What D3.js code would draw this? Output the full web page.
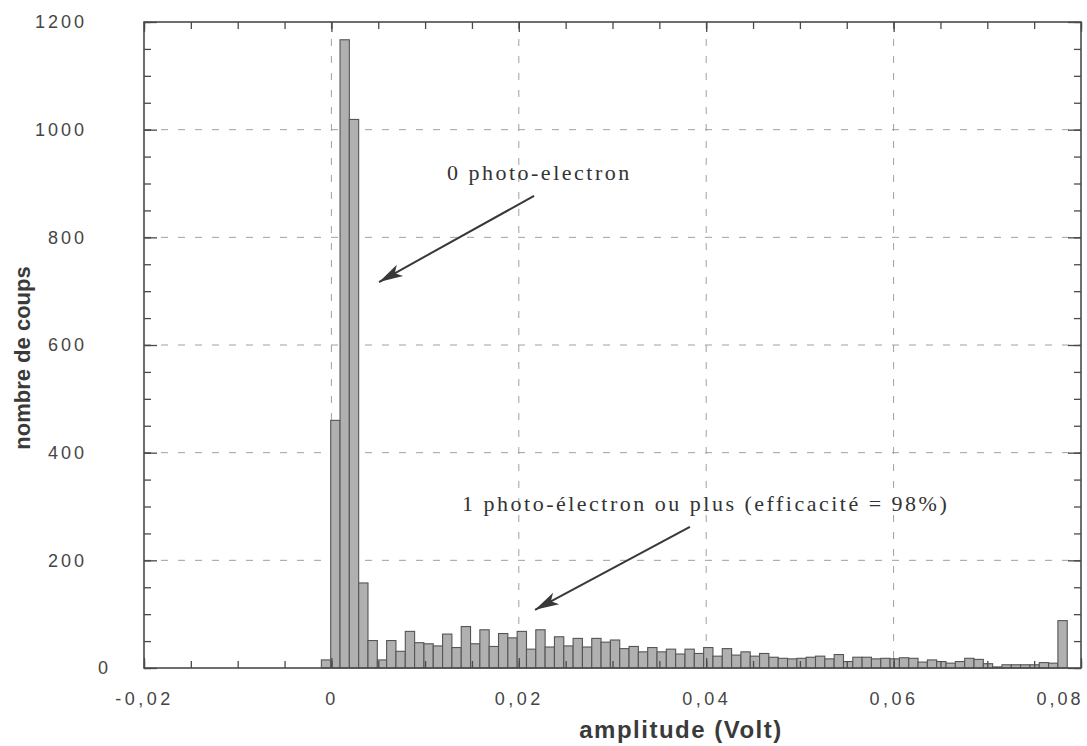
<!DOCTYPE html>
<html>
<head>
<meta charset="utf-8">
<script src="https://cdn.jsdelivr.net/npm/d3@7"></script>
<style>
  html, body { margin: 0; padding: 0; background: #fff; }
  svg { display: block; }
</style>
</head>
<body>
<svg id="chart" width="1087" height="746"></svg>
<script>
// Histogram of pulse amplitudes: counts per amplitude bin (Volt)
const binStart = -0.00107;   // lower edge of the first bin
const binWidth = 0.000995;   // bin width
const counts = [
  15, 460, 1167, 1019, 158, 51, 15, 51, 31, 68,
  47, 45, 41, 63, 38, 77, 45, 71, 40, 64,
  56, 68, 35, 71, 39, 58, 41, 55, 39, 55,
  48, 52, 36, 40, 30, 38, 30, 35, 26, 35,
  27, 38, 22, 36, 24, 30, 22, 27, 20, 18,
  17, 18, 20, 22, 17, 25, 12, 20, 20, 17,
  18, 17, 19, 18, 11, 15, 12, 9, 12, 18,
  16, 8, 2, 6, 6, 6, 6, 10, 9, 88
];

// Axis ticks
const xMajorTicks = [-0.02, 0, 0.02, 0.04, 0.06, 0.08];
const xMinorTicks = d3.range(-0.02, 0.0801, 0.005);
const yMajorTicks = [0, 200, 400, 600, 800, 1000, 1200];
const yMinorTicks = d3.range(0, 1201, 50);

// Annotations: label text with its position, arrow from -> to (data units)
const annotations = [
  { text: "0 photo-electron", x: 0.01233, y: 906,
    from: [0.02163, 877], to: [0.00508, 717] },
  { text: "1 photo-électron ou plus (efficacité = 98%)", x: 0.01394, y: 292,
    from: [0.03826, 262], to: [0.02173, 108] }
];

const svg = d3.select("#chart");
const x = d3.scaleLinear().domain([-0.02, 0.08]).range([144, 1081]);
const y = d3.scaleLinear().domain([0, 1200]).range([668, 22]);

const fr = d3.formatLocale({ decimal: ",", thousands: "", grouping: [3], currency: ["", ""], minus: "-" });
const fmtX = v => Math.abs(v) < 1e-9 ? "0" : fr.format(".2f")(v);

const frameColor = "#4a4a4a";
const labelColor = "#454545";

// Grid lines
const grid = svg.append("g").attr("stroke", "#a0a0a0").attr("stroke-width", 1)
  .attr("stroke-dasharray", "7,10");
grid.selectAll("line.v").data([0, 0.02, 0.04, 0.06]).join("line")
  .attr("x1", d => x(d)).attr("x2", d => x(d))
  .attr("y1", y(1200)).attr("y2", y(0));
grid.selectAll("line.h").data([200, 400, 600, 800, 1000]).join("line")
  .attr("x1", x(-0.02)).attr("x2", x(0.08))
  .attr("y1", d => y(d)).attr("y2", d => y(d));

// Bars
const bins = counts.map((c, i) => ({ x0: binStart + i * binWidth, x1: binStart + (i + 1) * binWidth, c }));
svg.append("g").selectAll("rect").data(bins).join("rect")
  .attr("x", d => x(d.x0))
  .attr("width", d => x(d.x1) - x(d.x0))
  .attr("y", d => y(d.c))
  .attr("height", d => y(0) - y(d.c))
  .attr("fill", "#b0b0b0")
  .attr("stroke", "#555")
  .attr("stroke-width", 1.1);

// Axes with inward ticks
function styleAxis(g) {
  g.select(".domain").remove();
  g.selectAll(".tick line").attr("stroke", frameColor).attr("stroke-width", 1.3);
}
const tickFont = 18;

// bottom
svg.append("g").attr("transform", `translate(0,${y(0)})`)
  .call(d3.axisBottom(x).tickValues(xMinorTicks).tickSize(-7).tickFormat(""))
  .call(styleAxis);
const xb = svg.append("g").attr("transform", `translate(0,${y(0)})`)
  .call(d3.axisBottom(x).tickValues(xMajorTicks).tickSize(-10).tickPadding(24).tickFormat(fmtX))
  .call(styleAxis);
xb.selectAll("text")
  .attr("font-family", "Liberation Sans, Arial, sans-serif")
  .attr("font-size", tickFont).attr("fill", labelColor)
  .attr("letter-spacing", "3.5px");
xb.selectAll(".tick").filter(d => d === 0.08).select("text")
  .attr("text-anchor", "end").attr("dx", "2").attr("letter-spacing", "3px");

// top
svg.append("g").attr("transform", `translate(0,${y(1200)})`)
  .call(d3.axisTop(x).tickValues(xMinorTicks).tickSize(-7).tickFormat(""))
  .call(styleAxis);
svg.append("g").attr("transform", `translate(0,${y(1200)})`)
  .call(d3.axisTop(x).tickValues(xMajorTicks).tickSize(-10).tickFormat(""))
  .call(styleAxis);

// left
svg.append("g").attr("transform", `translate(${x(-0.02)},0)`)
  .call(d3.axisLeft(y).tickValues(yMinorTicks).tickSize(-7).tickFormat(""))
  .call(styleAxis);
const yl = svg.append("g").attr("transform", `translate(${x(-0.02)},0)`)
  .call(d3.axisLeft(y).tickValues(yMajorTicks).tickSize(-13).tickPadding(57).tickFormat(d3.format("d")))
  .call(styleAxis);
yl.selectAll("text")
  .attr("font-family", "Liberation Sans, Arial, sans-serif")
  .attr("font-size", tickFont).attr("fill", labelColor)
  .attr("letter-spacing", "3px");
yl.selectAll(".tick").filter(d => d === 0).select("text").attr("dx", "24");

// right
svg.append("g").attr("transform", `translate(${x(0.08)},0)`)
  .call(d3.axisRight(y).tickValues(yMinorTicks).tickSize(-7).tickFormat(""))
  .call(styleAxis);
svg.append("g").attr("transform", `translate(${x(0.08)},0)`)
  .call(d3.axisRight(y).tickValues(yMajorTicks).tickSize(-13).tickFormat(""))
  .call(styleAxis);

// Frame
svg.append("rect")
  .attr("x", x(-0.02)).attr("y", y(1200))
  .attr("width", x(0.08) - x(-0.02)).attr("height", y(0) - y(1200))
  .attr("fill", "none").attr("stroke", frameColor).attr("stroke-width", 1.6);

// Axis titles
svg.append("text")
  .attr("x", 681).attr("y", 738)
  .attr("text-anchor", "middle")
  .attr("font-family", "Liberation Sans, Arial, sans-serif")
  .attr("font-weight", "bold").attr("font-size", 24)
  .attr("letter-spacing", "1.5px")
  .attr("fill", "#3a3a3a")
  .text("amplitude (Volt)");

svg.append("text")
  .attr("transform", "translate(30,358) rotate(-90)")
  .attr("text-anchor", "middle")
  .attr("font-family", "Liberation Sans, Arial, sans-serif")
  .attr("font-weight", "bold").attr("font-size", 22)
  .attr("fill", "#3a3a3a")
  .text("nombre de coups");

// Arrow marker
const defs = svg.append("defs");
defs.append("marker")
  .attr("id", "arrowhead")
  .attr("markerUnits", "userSpaceOnUse")
  .attr("viewBox", "-26 -7 28 14")
  .attr("refX", 0).attr("refY", 0)
  .attr("markerWidth", 28).attr("markerHeight", 14)
  .attr("orient", "auto")
  .append("path")
  .attr("d", "M0,0 L-24,-6.5 L-18,0 L-24,6.5 Z")
  .attr("fill", "#383838");

const ann = svg.append("g");
ann.selectAll("line").data(annotations).join("line")
  .attr("x1", d => x(d.from[0])).attr("y1", d => y(d.from[1]))
  .attr("x2", d => x(d.to[0])).attr("y2", d => y(d.to[1]))
  .attr("stroke", "#383838").attr("stroke-width", 2)
  .attr("marker-end", "url(#arrowhead)");
ann.selectAll("text").data(annotations).join("text")
  .attr("x", d => x(d.x)).attr("y", d => y(d.y))
  .attr("font-family", "Liberation Serif, Times New Roman, serif")
  .attr("font-size", 22)
  .attr("letter-spacing", "2.5px")
  .attr("fill", "#333")
  .text(d => d.text);
</script>
</body>
</html>
